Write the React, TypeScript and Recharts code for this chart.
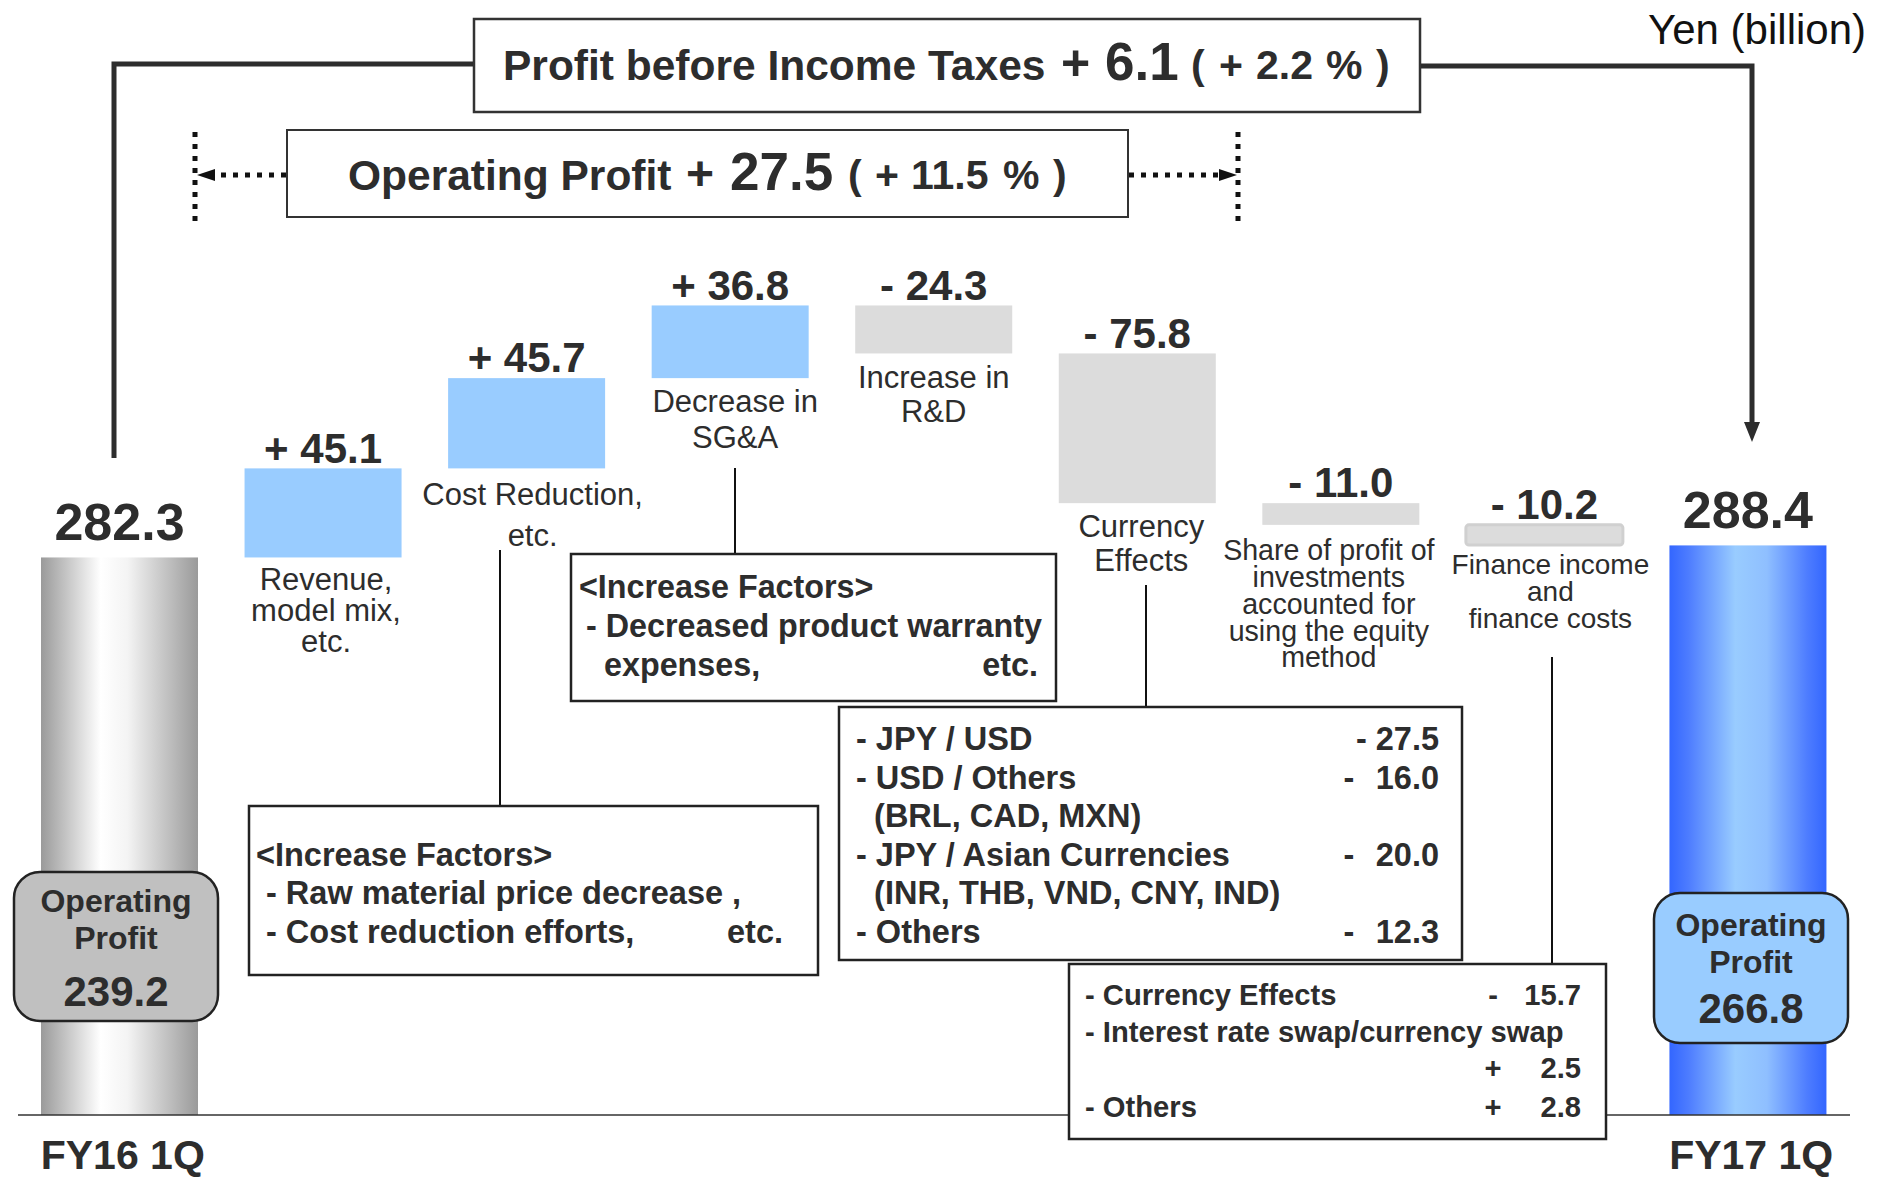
import React from 'react';
import { ComposedChart, Bar, XAxis, YAxis, Cell } from 'recharts';

// ---------- data ----------
const categories = [
  'FY16 1Q',
  'Revenue, model mix, etc.',
  'Cost Reduction, etc.',
  'Decrease in SG&A',
  'Increase in R&D',
  'Currency Effects',
  'Share of profit of investments accounted for using the equity method',
  'Finance income and finance costs',
  'FY17 1Q',
];
const categoryLines: string[][] = [
  [],
  ['Revenue,', 'model mix,', 'etc.'],
  ['Cost Reduction,', 'etc.'],
  ['Decrease in', 'SG&A'],
  ['Increase in', 'R&D'],
  ['Currency', 'Effects'],
  ['Share of profit of', 'investments', 'accounted for', 'using the equity', 'method'],
  ['Finance income', 'and', 'finance costs'],
  [],
];
const startValue = 282.3;
const endValue = 288.4;
const deltas = [45.1, 45.7, 36.8, -24.3, -75.8, -11.0, -10.2];
const valueLabels = ['282.3', '+ 45.1', '+ 45.7', '+ 36.8', '- 24.3', '- 75.8', '- 11.0', '- 10.2', '288.4'];
const axisLabels = ['FY16 1Q', '', '', '', '', '', '', '', 'FY17 1Q'];

const currencyRows = [
  { text: '- JPY / USD', sign: '', value: '- 27.5' },
  { text: '- USD / Others', sign: '-', value: '16.0' },
  { text: '  (BRL, CAD, MXN)', sign: '', value: '' },
  { text: '- JPY / Asian Currencies', sign: '-', value: '20.0' },
  { text: '  (INR, THB, VND, CNY, IND)', sign: '', value: '' },
  { text: '- Others', sign: '-', value: '12.3' },
];
const financeRows = [
  { text: '- Currency Effects', sign: '-', value: '15.7' },
  { text: '- Interest rate swap/currency swap', sign: '', value: '' },
  { text: '', sign: '+', value: '2.5' },
  { text: '- Others', sign: '+', value: '2.8' },
];

// build waterfall table
let running = startValue;
const data = categories.map((name, i) => {
  if (i === 0) return { name, range: [0, startValue] };
  if (i === categories.length - 1) return { name, range: [0, endValue] };
  const prev = running;
  running = Math.round((running + deltas[i - 1]) * 10) / 10;
  return { name, range: [Math.min(prev, running), Math.max(prev, running)] };
});

// ---------- styles ----------
const FONT = "'Liberation Sans', Arial, Helvetica, sans-serif";
const TXT = '#2d2d2d';
const UP = '#99ccff';
const DOWN = '#dcdcdc';
// per-category label layout (x shift, first-line offset below bar, line spacing, font size)
const catStyle = [
  null,
  { dx: 3, off: 21, lh: 31, fs: 31 },
  { dx: 6, off: 25, lh: 41, fs: 31 },
  { dx: 5, off: 23, lh: 36, fs: 31 },
  { dx: 0, off: 23, lh: 34, fs: 31 },
  { dx: 4, off: 23, lh: 34, fs: 31 },
  { dx: -12, off: 25, lh: 26.8, fs: 28.6 },
  { dx: 6, off: 19, lh: 27, fs: 28 },
  null,
];

const WaterfallShape = (props: any) => {
  const { x, y, width, height, index, fill, stroke } = props;
  const top = Math.min(y, y + height);
  const h = Math.abs(height);
  const bottom = top + h;
  const cx = x + width / 2;
  const isTotal = index === 0 || index === categories.length - 1;
  const vfs = isTotal ? 52 : 42;
  const voff = isTotal ? 36 : 21;
  const cs = catStyle[index];
  return (
    <g>
      <rect x={x} y={top} width={width} height={h} fill={fill} stroke={stroke} strokeWidth={stroke ? 3 : 0} rx={stroke ? 3 : 0} />
      <text x={cx} y={top - voff + vfs * 0.36} textAnchor="middle" fontFamily={FONT} fontWeight="bold" fontSize={vfs} fill={TXT}>
        {valueLabels[index]}
      </text>
      {cs &&
        categoryLines[index].map((ln, k) => (
          <text key={k} x={cx + cs.dx} y={bottom + cs.off + k * cs.lh + cs.fs * 0.36} textAnchor="middle" fontFamily={FONT} fontSize={cs.fs} fill={TXT}>
            {ln}
          </text>
        ))}
    </g>
  );
};

const AxisTick = (props: any) => {
  const { x, y, index } = props;
  const t = axisLabels[index];
  if (!t) return null;
  return (
    <text x={x + 3} y={y + 46} textAnchor="middle" fontFamily={FONT} fontWeight="bold" fontSize={41} fill={TXT}>
      {t}
    </text>
  );
};

const Overlay = () => {
  const thick = '#2d2d2d';
  return (
    <svg width={1888} height={1179} style={{ position: 'absolute', left: 0, top: 0, pointerEvents: 'none' }}>
      {/* thick connectors */}
      <polyline points="114,458 114,64 474,64" fill="none" stroke={thick} strokeWidth={5} />
      <polyline points="1420,66 1752,66 1752,424" fill="none" stroke={thick} strokeWidth={5} />
      <polygon points="1744,422 1760,422 1752,442" fill={thick} />

      {/* Profit before income taxes box */}
      <rect x={474} y={19} width={946} height={93} fill="#fff" stroke="#333" strokeWidth={2.5} />
      <text y={80} fontFamily={FONT} fontWeight="bold" fill={TXT}>
        <tspan x={503} fontSize={42.5}>Profit before Income Taxes</tspan>
        <tspan x={1061} fontSize={50}>+</tspan>
        <tspan x={1105} fontSize={53}>6.1</tspan>
      </text>
      <text y={79} fontFamily={FONT} fontWeight="bold" fontSize={41} fill={TXT}>
        <tspan x={1191}>(</tspan>
        <tspan x={1219}>+</tspan>
        <tspan x={1256}>2.2</tspan>
        <tspan x={1326}>%</tspan>
        <tspan x={1376}>)</tspan>
      </text>

      {/* Operating profit box */}
      <rect x={287} y={130} width={841} height={87} fill="#fff" stroke="#333" strokeWidth={2} />
      <text y={190} fontFamily={FONT} fontWeight="bold" fill={TXT}>
        <tspan x={348} fontSize={42.5}>Operating Profit</tspan>
        <tspan x={686} fontSize={48}>+</tspan>
        <tspan x={730} fontSize={53}>27.5</tspan>
      </text>
      <text y={189} fontFamily={FONT} fontWeight="bold" fontSize={41} fill={TXT}>
        <tspan x={848}>(</tspan>
        <tspan x={875}>+</tspan>
        <tspan x={911}>11.5</tspan>
        <tspan x={1003}>%</tspan>
        <tspan x={1053}>)</tspan>
      </text>

      {/* dotted arrows */}
      <line x1={195} y1={132} x2={195} y2={222} stroke="#111" strokeWidth={5} strokeDasharray="5 7" />
      <line x1={1238} y1={132} x2={1238} y2={222} stroke="#111" strokeWidth={5} strokeDasharray="5 7" />
      <line x1={286} y1={175} x2={214} y2={175} stroke="#111" strokeWidth={5} strokeDasharray="5 7" />
      <polygon points="197,175 215,169 215,181" fill="#111" />
      <line x1={1129} y1={175} x2={1220} y2={175} stroke="#111" strokeWidth={5} strokeDasharray="5 7" />
      <polygon points="1237,175 1219,169 1219,181" fill="#111" />

      <text x={1866} y={44} textAnchor="end" fontFamily={FONT} fontSize={42} fill="#111">
        Yen (billion)
      </text>

      {/* callout connectors */}
      <line x1={500} y1={550} x2={500} y2={806} stroke="#111" strokeWidth={2} />
      <line x1={735} y1={468} x2={735} y2={554} stroke="#111" strokeWidth={2} />
      <line x1={1146} y1={585} x2={1146} y2={707} stroke="#111" strokeWidth={2} />
      <line x1={1552} y1={657} x2={1552} y2={964} stroke="#111" strokeWidth={2} />

      {/* Box A: cost reduction */}
      <rect x={249} y={806} width={569} height={169} fill="#fff" stroke="#222" strokeWidth={2.5} />
      <g fontFamily={FONT} fontWeight="bold" fontSize={32.5} fill={TXT}>
        <text x={256} y={866}>&lt;Increase Factors&gt;</text>
        <text x={266} y={904}>- Raw material price decrease ,</text>
        <text x={266} y={943}>- Cost reduction efforts,</text>
        <text x={783} y={943} textAnchor="end">etc.</text>
      </g>

      {/* Box B: SG&A */}
      <rect x={571} y={554} width={485} height={147} fill="#fff" stroke="#222" strokeWidth={2.5} />
      <g fontFamily={FONT} fontWeight="bold" fontSize={32.3} fill={TXT}>
        <text x={579} y={598}>&lt;Increase Factors&gt;</text>
        <text x={586} y={637}>- Decreased product warranty</text>
        <text x={604} y={676}>expenses,</text>
        <text x={1038} y={676} textAnchor="end">etc.</text>
      </g>

      {/* Box C: currency */}
      <rect x={839} y={707} width={623} height={253} fill="#fff" stroke="#222" strokeWidth={2.5} />
      <g fontFamily={FONT} fontWeight="bold" fontSize={32.5} fill={TXT}>
        {currencyRows.map((r, i) => (
          <g key={i}>
            <text x={856} y={750 + i * 38.6} style={{ whiteSpace: 'pre' }}>{r.text}</text>
            {r.sign && <text x={1349} y={750 + i * 38.6} textAnchor="middle">{r.sign}</text>}
            {r.value && <text x={1439} y={750 + i * 38.6} textAnchor="end">{r.value}</text>}
          </g>
        ))}
      </g>

      {/* Box D: finance */}
      <rect x={1069} y={964} width={537} height={175} fill="#fff" stroke="#222" strokeWidth={2.5} />
      <g fontFamily={FONT} fontWeight="bold" fontSize={29.2} fill={TXT}>
        {financeRows.map((r, i) => {
          const yy = [1005, 1042, 1078, 1117][i];
          return (
            <g key={i}>
              {r.text && <text x={1085} y={yy}>{r.text}</text>}
              {r.sign && <text x={1493} y={yy} textAnchor="middle">{r.sign}</text>}
              {r.value && <text x={1581} y={yy} textAnchor="end">{r.value}</text>}
            </g>
          );
        })}
      </g>

      {/* badges */}
      <rect x={14} y={872} width={204} height={149} rx={26} fill="#c0c0c0" stroke="#222" strokeWidth={2.5} />
      <g fontFamily={FONT} fontWeight="bold" fill={TXT} textAnchor="middle">
        <text x={116} y={912} fontSize={32}>Operating</text>
        <text x={116} y={949} fontSize={32}>Profit</text>
        <text x={116} y={1006} fontSize={42}>239.2</text>
      </g>
      <rect x={1654} y={893} width={194} height={150} rx={26} fill="#99ccff" stroke="#222" strokeWidth={2.5} />
      <g fontFamily={FONT} fontWeight="bold" fill={TXT} textAnchor="middle">
        <text x={1751} y={936} fontSize={32}>Operating</text>
        <text x={1751} y={973} fontSize={32}>Profit</text>
        <text x={1751} y={1023} fontSize={42}>266.8</text>
      </g>
    </svg>
  );
};

export default function App() {
  return (
    <div style={{ position: 'absolute', left: 0, top: 0, width: 1888, height: 1179, background: '#fff' }}>
      <ComposedChart width={1888} height={1179} data={data} margin={{ top: 9, right: 38, left: 18, bottom: 0 }}>
        <defs>
          <linearGradient id="grayGrad" x1="0" y1="0" x2="1" y2="0">
            <stop offset="0%" stopColor="#9a9a9a" />
            <stop offset="38%" stopColor="#ffffff" />
            <stop offset="55%" stopColor="#f4f4f4" />
            <stop offset="100%" stopColor="#9a9a9a" />
          </linearGradient>
          <linearGradient id="blueGrad" x1="0" y1="0" x2="1" y2="0">
            <stop offset="0%" stopColor="#3366ff" />
            <stop offset="12%" stopColor="#4d7cff" />
            <stop offset="42%" stopColor="#99ccff" />
            <stop offset="62%" stopColor="#8fbfff" />
            <stop offset="88%" stopColor="#4d7cff" />
            <stop offset="100%" stopColor="#3366ff" />
          </linearGradient>
        </defs>
        <XAxis dataKey="name" interval={0} height={64} tickLine={false} axisLine={{ stroke: '#333', strokeWidth: 1.5 }} tick={<AxisTick />} />
        <YAxis hide width={0} domain={[0, 560]} />
        <Bar dataKey="range" barSize={157} isAnimationActive={false} shape={<WaterfallShape />}>
          {data.map((d, i) => {
            const last = categories.length - 1;
            const fill = i === 0 ? 'url(#grayGrad)' : i === last ? 'url(#blueGrad)' : deltas[i - 1] > 0 ? UP : DOWN;
            const stroke = i === last - 1 ? '#d0d0d0' : undefined;
            return <Cell key={i} fill={fill} stroke={stroke} />;
          })}
        </Bar>
      </ComposedChart>
      <Overlay />
    </div>
  );
}
